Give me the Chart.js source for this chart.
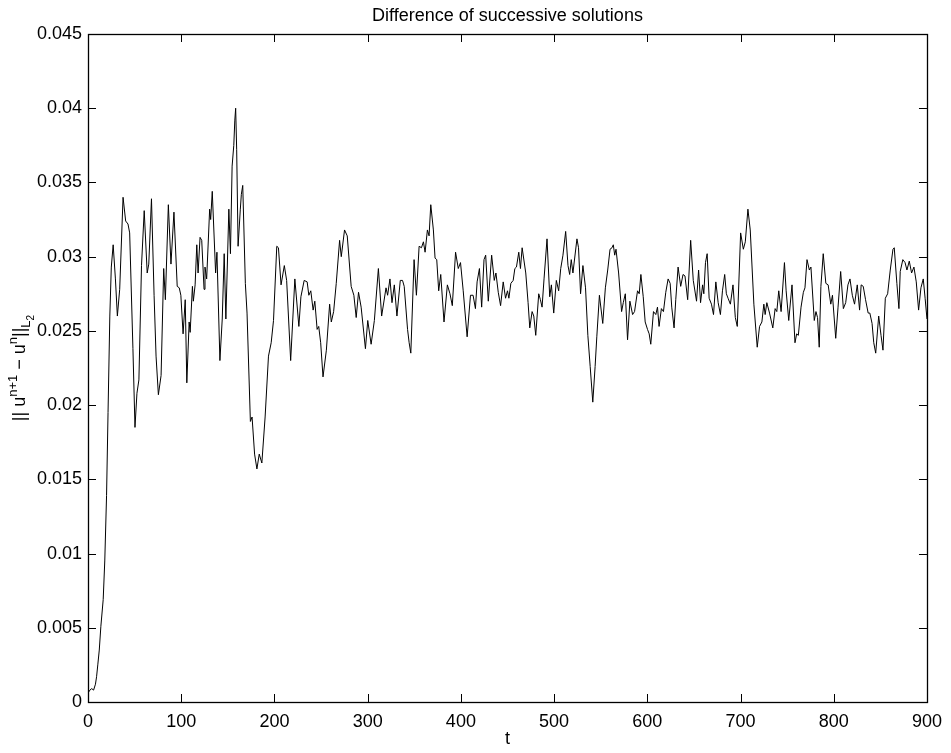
<!DOCTYPE html>
<html>
<head>
<meta charset="utf-8">
<title>Difference of successive solutions</title>
<script src="https://cdn.jsdelivr.net/npm/chart.js@4.4.1/dist/chart.umd.min.js"></script>
<style>
  html, body { margin: 0; padding: 0; background: #fff; }
  #wrap { width: 951px; height: 753px; position: relative; }
</style>
</head>
<body>
<div id="wrap"><canvas id="grafico"></canvas></div>
<script>
// values
const tValues = [
  0, 2, 4, 6, 8, 9.2, 10.5, 12.1, 13.8, 16.3, 18, 19.9, 21.5, 23.4, 25, 27, 29.4, 31.5, 34, 37.6,
  40.4, 42.9, 44.7, 48.2, 50.4, 52.5, 54.6, 57.4, 60.3, 63.5, 65.2, 68.1, 70.9, 73, 75.5, 78.4, 81.2, 83, 86.2, 89,
  92.2, 95.7, 97.9, 99.6, 102, 104.3, 106, 108.5, 109.6, 112, 113, 114.9, 116.7, 118.1, 120.2, 122, 124.5, 125.5, 127.3, 130.5,
  131.6, 133.3, 136.9, 138.3, 141.5, 144, 146.1, 147.9, 151.1, 152.8, 154.6, 156.4, 157.5, 158.4, 159.5, 161, 163.4, 164.5, 166, 168.8,
  170.6, 174.2, 176, 178.7, 181.2, 183.7, 186.5, 190, 193.6, 196.5, 199, 202.5, 204.3, 207.1, 210.6, 213.1, 217.4, 221.9, 226.2, 228.4,
  231.9, 235.1, 236.9, 239, 241.5, 243.3, 245.8, 247.5, 249.6, 252.1, 255.7, 259.2, 261, 263.5, 266.3, 269.9, 271.7, 275.2, 278.1, 282.3,
  285.2, 287.7, 290.2, 293, 297.6, 300.1, 303.7, 307.2, 311.5, 315, 319.7, 321.4, 323.9, 326.1, 328.6, 331.4, 335, 337.4, 339.2, 342.8,
  344.5, 346.3, 349.8, 352.3, 355.2, 357.7, 359.8, 361.6, 364.1, 365.9, 367.7, 370.5, 372.3, 374.1, 376.2, 378.4, 381.9, 385.5, 388.3, 390.8,
  394.3, 397.2, 399.6, 402.5, 406.7, 410.3, 413.1, 415.6, 417.4, 419.9, 422.3, 424.8, 426.6, 429.4, 433, 435.8, 437.6, 440.1, 442.6, 445.4,
  447.9, 450, 451.5, 453.6, 456.1, 457.9, 459.6, 462.1, 463.9, 465.7, 469.6, 472.1, 473.9, 476.4, 478.2, 480.3, 483.5, 485.3, 487.1, 489.2,
  492.4, 495.3, 497.1, 499.6, 502.4, 504.9, 507.1, 509.5, 512.4, 514.9, 516.7, 518.4, 520.2, 524.5, 526.2, 528.4, 530.9, 533.7, 536.2, 538.7,
  541.5, 544, 545.8, 548.6, 552.2, 555, 557.5, 560, 562.1, 563.5, 565, 566.4, 569.2, 572.4, 574.2, 576.4, 578.8, 581.3, 584.2, 586.3,
  589.5, 591.3, 593.1, 595.6, 597.7, 600.2, 602, 603.7, 606.6, 609.1, 610.9, 612.6, 615.1, 617.3, 619.8, 622.3, 624.5, 626.2, 628.7, 630.5,
  633, 635.8, 638.3, 640.4, 643.3, 646.5, 649.3, 652.8, 655, 657.1, 659.3, 660.6, 662.4, 664.2, 666.3, 668.8, 671, 673.5, 676, 678.4,
  680.6, 683, 684.8, 686.6, 689.1, 691.9, 694.4, 696.5, 700.1, 703, 705.1, 707.9, 710.4, 714.3, 717.9, 720.4, 722.9, 725, 726.4, 728.2,
  731.1, 734.6, 737.1, 738.9, 741, 743.5, 747.1, 748.9, 751.7, 755.2, 758.4, 760.2, 762, 764.9, 767.4, 769.1, 771.3, 773.8, 775.5, 779.1,
  780.9, 782.6, 784.4, 786.2, 788.7, 791.5, 794, 796.8, 798.6, 802.1, 804.6, 807.4, 810.3, 812.8, 815.2, 817.4, 819.9, 822.3, 825.2, 827.7,
  829.4, 831.6, 834.1, 836.9, 838.7, 841.1, 842.9, 845, 848.2, 850.7, 852.8, 855.3, 857.8, 860.6, 863.5, 864.9, 867.7, 869.9, 871.3, 874.1,
  876.5, 878.5, 881, 883.5, 886, 888.5, 891, 893.5, 896, 898, 900
];
const uValues = [
  0.0006, 0.0008, 0.0009, 0.0008, 0.0012, 0.0017, 0.0025, 0.0035, 0.0051, 0.0069, 0.0095, 0.0139, 0.0195, 0.0260, 0.0293, 0.0308, 0.0285, 0.0260, 0.0278, 0.0340,
  0.0324, 0.0322, 0.0316, 0.0238, 0.0185, 0.0208, 0.0217, 0.0294, 0.0331, 0.0289, 0.0295, 0.0339, 0.0274, 0.0233, 0.0207, 0.0220, 0.0292, 0.0271, 0.0335, 0.0295,
  0.0330, 0.0280, 0.0279, 0.0274, 0.0248, 0.0271, 0.0215, 0.0256, 0.0249, 0.0280, 0.0270, 0.0281, 0.0308, 0.0289, 0.0313, 0.0311, 0.0278, 0.0293, 0.0285, 0.0332,
  0.0325, 0.0344, 0.0289, 0.0303, 0.0230, 0.0258, 0.0302, 0.0258, 0.0332, 0.0302, 0.0361, 0.0375, 0.0392, 0.0400, 0.0372, 0.0307, 0.0332, 0.0342, 0.0348, 0.0282,
  0.0262, 0.0189, 0.0192, 0.0167, 0.0157, 0.0167, 0.0161, 0.0192, 0.0233, 0.0242, 0.0257, 0.0307, 0.0306, 0.0281, 0.0294, 0.0284, 0.0230, 0.0285, 0.0253, 0.0273,
  0.0284, 0.0283, 0.0274, 0.0277, 0.0264, 0.0270, 0.0251, 0.0253, 0.0242, 0.0219, 0.0237, 0.0268, 0.0256, 0.0263, 0.0282, 0.0311, 0.0300, 0.0318, 0.0314, 0.0280,
  0.0274, 0.0259, 0.0276, 0.0266, 0.0238, 0.0257, 0.0241, 0.0257, 0.0292, 0.0260, 0.0279, 0.0274, 0.0285, 0.0269, 0.0281, 0.0260, 0.0284, 0.0284, 0.0280, 0.0251,
  0.0242, 0.0235, 0.0298, 0.0274, 0.0307, 0.0306, 0.0310, 0.0303, 0.0318, 0.0314, 0.0335, 0.0318, 0.0299, 0.0298, 0.0277, 0.0288, 0.0256, 0.0281, 0.0275, 0.0267,
  0.0303, 0.0292, 0.0296, 0.0277, 0.0246, 0.0274, 0.0274, 0.0265, 0.0283, 0.0292, 0.0266, 0.0298, 0.0301, 0.0270, 0.0301, 0.0284, 0.0289, 0.0276, 0.0267, 0.0283,
  0.0272, 0.0277, 0.0272, 0.0282, 0.0284, 0.0292, 0.0293, 0.0303, 0.0292, 0.0306, 0.0289, 0.0269, 0.0252, 0.0263, 0.0260, 0.0247, 0.0275, 0.0271, 0.0266, 0.0285,
  0.0312, 0.0273, 0.0281, 0.0262, 0.0284, 0.0277, 0.0292, 0.0301, 0.0317, 0.0294, 0.0288, 0.0298, 0.0289, 0.0312, 0.0306, 0.0275, 0.0294, 0.0279, 0.0247, 0.0226,
  0.0202, 0.0226, 0.0246, 0.0274, 0.0255, 0.0279, 0.0291, 0.0305, 0.0306, 0.0308, 0.0301, 0.0305, 0.0289, 0.0263, 0.0269, 0.0275, 0.0244, 0.0270, 0.0261, 0.0263,
  0.0277, 0.0275, 0.0288, 0.0273, 0.0256, 0.0251, 0.0248, 0.0241, 0.0263, 0.0261, 0.0266, 0.0253, 0.0265, 0.0263, 0.0276, 0.0285, 0.0282, 0.0266, 0.0252, 0.0271,
  0.0293, 0.0280, 0.0288, 0.0287, 0.0271, 0.0311, 0.0284, 0.0270, 0.0291, 0.0269, 0.0281, 0.0275, 0.0296, 0.0302, 0.0272, 0.0268, 0.0261, 0.0283, 0.0269, 0.0261,
  0.0277, 0.0288, 0.0275, 0.0272, 0.0268, 0.0281, 0.0259, 0.0253, 0.0316, 0.0305, 0.0310, 0.0332, 0.0318, 0.0268, 0.0239, 0.0253, 0.0256, 0.0268, 0.0261, 0.0269,
  0.0262, 0.0252, 0.0265, 0.0263, 0.0277, 0.0263, 0.0296, 0.0277, 0.0257, 0.0281, 0.0242, 0.0248, 0.0247, 0.0266, 0.0276, 0.0279, 0.0298, 0.0291, 0.0293, 0.0257,
  0.0263, 0.0259, 0.0239, 0.0280, 0.0302, 0.0282, 0.0281, 0.0268, 0.0274, 0.0245, 0.0266, 0.0290, 0.0265, 0.0269, 0.0281, 0.0285, 0.0274, 0.0268, 0.0281, 0.0264,
  0.0281, 0.0280, 0.0271, 0.0262, 0.0262, 0.0255, 0.0242, 0.0235, 0.0260, 0.0247, 0.0237, 0.0272, 0.0275, 0.0291, 0.0305, 0.0306, 0.0282, 0.0265, 0.0290, 0.0298,
  0.0296, 0.0291, 0.0297, 0.0289, 0.0293, 0.0283, 0.0264, 0.0279, 0.0285, 0.0272, 0.0258
];
const xTicks = [0, 100, 200, 300, 400, 500, 600, 700, 800, 900];
const yTicks = [0, 0.005, 0.01, 0.015, 0.02, 0.025, 0.03, 0.035, 0.04, 0.045];
const yTickLabels = ['0', '0.005', '0.01', '0.015', '0.02', '0.025', '0.03', '0.035', '0.04', '0.045'];
const titulo = 'Difference of successive solutions';
const rotuloX = 't';

const fonte = "'Liberation Sans', Arial, Helvetica, sans-serif";

// matlab-like box, inward ticks, title and labels
const eixosMatlab = {
  id: 'eixosMatlab',
  afterDraw(chart) {
    const { ctx, chartArea: a, scales } = chart;
    const tam = 8;
    ctx.save();
    ctx.strokeStyle = '#000';
    ctx.lineWidth = 1;
    ctx.beginPath();
    xTicks.forEach(v => {
      const px = Math.round(scales.x.getPixelForValue(v)) + 0.5;
      ctx.moveTo(px, a.bottom); ctx.lineTo(px, a.bottom - tam);
      ctx.moveTo(px, a.top); ctx.lineTo(px, a.top + tam);
    });
    yTicks.forEach(v => {
      const py = Math.round(scales.y.getPixelForValue(v)) + 0.5;
      ctx.moveTo(a.left, py); ctx.lineTo(a.left + tam, py);
      ctx.moveTo(a.right, py); ctx.lineTo(a.right - tam, py);
    });
    ctx.stroke();
    ctx.lineWidth = 1.3;
    ctx.strokeRect(Math.round(a.left) + 0.5, Math.round(a.top) + 0.5,
      Math.round(a.right - a.left), Math.round(a.bottom - a.top));

    ctx.fillStyle = '#000';
    ctx.textAlign = 'center';
    ctx.textBaseline = 'alphabetic';
    const cx = (a.left + a.right) / 2;
    ctx.font = '18px ' + fonte;
    ctx.fillText(titulo, cx, 21);
    ctx.fillText(rotuloX, cx, 744);

    // y label: || u^{n+1} - u^n ||_{L_2}
    const partes = [
      { s: '|| u', f: 18, dy: 0 },
      { s: 'n+1', f: 13, dy: -8 },
      { s: ' \u2212 u', f: 18, dy: 0 },
      { s: 'n', f: 13, dy: -8 },
      { s: '||', f: 18, dy: 0 },
      { s: 'L', f: 13, dy: 5 },
      { s: '2', f: 10, dy: 9 }
    ];
    let total = 0;
    partes.forEach(p => { ctx.font = p.f + 'px ' + fonte; p.w = ctx.measureText(p.s).width; total += p.w; });
    ctx.translate(25, (a.top + a.bottom) / 2);
    ctx.rotate(-Math.PI / 2);
    ctx.textAlign = 'left';
    let x = -total / 2;
    partes.forEach(p => {
      ctx.font = p.f + 'px ' + fonte;
      ctx.fillText(p.s, x, p.dy);
      x += p.w;
    });
    ctx.restore();
  }
};

const ctx = document.getElementById('grafico').getContext('2d');
new Chart(ctx, {
  type: 'line',
  data: {
    datasets: [{
      data: tValues.map((t, i) => ({ x: t, y: uValues[i] })),
      borderColor: '#000',
      borderWidth: 1,
      pointRadius: 0,
      tension: 0,
      fill: false
    }]
  },
  options: {
    responsive: true,
    maintainAspectRatio: false,
    animation: false,
    layout: { padding: { left: 0, right: 17, top: 34, bottom: 0 } },
    plugins: {
      legend: { display: false },
      tooltip: { enabled: false }
    },
    scales: {
      x: {
        type: 'linear',
        min: 0,
        max: 900,
        afterBuildTicks: s => { s.ticks = xTicks.map(v => ({ value: v })); },
        afterFit: s => { s.height = 51; },
        grid: { display: false, drawTicks: false },
        border: { display: false },
        ticks: { color: '#000', padding: 9, maxRotation: 0, font: { family: fonte, size: 18 } }
      },
      y: {
        min: 0,
        max: 0.045,
        afterBuildTicks: s => { s.ticks = yTicks.map(v => ({ value: v })); },
        afterFit: s => { s.width = 88; },
        grid: { display: false, drawTicks: false },
        border: { display: false },
        ticks: {
          color: '#000',
          padding: 6,
          font: { family: fonte, size: 18 },
          callback: (v, i) => yTickLabels[i]
        }
      }
    }
  },
  plugins: [eixosMatlab]
});
</script>
</body>
</html>
